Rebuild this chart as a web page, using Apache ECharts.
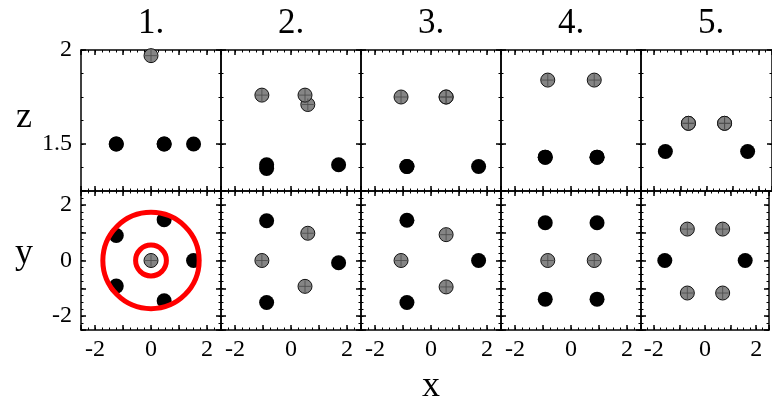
<!DOCTYPE html>
<html>
<head>
<meta charset="utf-8">
<script src="https://cdn.jsdelivr.net/npm/echarts@6/dist/echarts.min.js"></script>
<style>
  html, body { margin: 0; padding: 0; background: #fff; }
  #chart { width: 772px; height: 401px; }
</style>
</head>
<body>
<div id="chart"></div>
<script>
// Panel headings, one per configuration
const panelTitles = ['1.', '2.', '3.', '4.', '5.'];

// Dark sites: x, y, z per configuration
const blackX = [
  [-1.24, 0.47, 1.52, -1.24, 0.47],
  [-0.87, -0.87, 1.70],
  [-0.86, -0.86, 1.70],
  [-0.92, 0.93, -0.92, 0.93],
  [-1.57, 1.57]
];
const blackY = [
  [0.90, 1.47, 0.00, -0.92, -1.45],
  [1.43, -1.51, -0.08],
  [1.45, -1.51, 0.00],
  [1.36, 1.36, -1.39, -1.39],
  [0.00, 0.00]
];
const blackZ = [
  [1.50, 1.50, 1.50, 1.50, 1.50],
  [1.39, 1.37, 1.39],
  [1.38, 1.38, 1.38],
  [1.43, 1.43, 1.43, 1.43],
  [1.46, 1.46]
];

// Grey sites: x, y, z per configuration
const grayX = [
  [0.00],
  [-1.04, 0.60, 0.50],
  [-1.07, 0.54, 0.54],
  [-0.83, 0.83],
  [-0.69, 0.69, -0.69, 0.69]
];
const grayY = [
  [0.00],
  [0.00, 0.98, -0.93],
  [0.00, 0.93, -0.95],
  [0.00, 0.00],
  [1.13, 1.13, -1.17, -1.17]
];
const grayZ = [
  [1.97],
  [1.76, 1.71, 1.76],
  [1.75, 1.75, 1.75],
  [1.84, 1.84],
  [1.61, 1.61, 1.61, 1.61]
];

// Red rings in the first y–x panel: centre and radius
const ringCenterX = [0, 0];
const ringCenterY = [0, 0];
const ringRadius = [1.72, 0.55];

// Labelled tick values
const xTickLabels = [-2, 0, 2];
const yTickLabels = [-2, 0, 2];
const zTickLabels = [1.5, 2];

const FONT = 'Liberation Serif';
const PANEL_W = 140;
const LEFT0 = 81;

const rows = [
  { top: 50, height: 141, min: 1.25, max: 2.0, major: 0.5, minor: 0.125, labels: zTickLabels, dim: 'z' },
  { top: 191, height: 139, min: -2.5, max: 2.5, major: 1, minor: 0.25, labels: yTickLabels, dim: 'y' }
];
const xRange = { min: -2.5, max: 2.5, major: 1, minor: 0.25 };

const grid = [], xAxis = [], yAxis = [], series = [];
const lineStyle = { color: '#000', width: 1.5 };

function labelFormatter(list) {
  return function (v) {
    return list.some(function (l) { return Math.abs(l - v) < 1e-9; }) ? String(v) : '';
  };
}
const labelStyle = { fontFamily: FONT, fontSize: 24, color: '#000' };

// small cross drawn inside each grey marker
const CROSS = 'path://M0,10 L20,10 M10,0 L10,20';

rows.forEach(function (row, r) {
  for (let c = 0; c < 5; c++) {
    const g = grid.length;
    grid.push({ left: LEFT0 + c * PANEL_W, top: row.top, width: PANEL_W, height: row.height, containLabel: false });

    ['bottom', 'top'].forEach(function (pos) {
      // major ticks + frame line
      xAxis.push({
        gridIndex: g, type: 'value', position: pos,
        min: xRange.min, max: xRange.max, minInterval: xRange.major, maxInterval: xRange.major,
        axisLine: { show: true, onZero: false, lineStyle: lineStyle },
        axisTick: { show: true, inside: true, length: 5, lineStyle: lineStyle },
        axisLabel: Object.assign({ show: r === 1 && pos === 'bottom', margin: 8, formatter: labelFormatter(xTickLabels) }, labelStyle),
        splitLine: { show: false }
      });
      // minor ticks
      xAxis.push({
        gridIndex: g, type: 'value', position: pos,
        min: xRange.min, max: xRange.max, interval: xRange.minor,
        axisLine: { show: false, onZero: false },
        axisTick: { show: true, inside: true, length: 2.5, lineStyle: { color: '#000', width: 1 } },
        axisLabel: { show: false },
        splitLine: { show: false }
      });
    });

    ['left', 'right'].forEach(function (pos) {
      yAxis.push({
        gridIndex: g, type: 'value', position: pos,
        min: row.min, max: row.max, minInterval: row.major, maxInterval: row.major,
        axisLine: { show: true, onZero: false, lineStyle: lineStyle },
        axisTick: { show: true, inside: true, length: 5, lineStyle: lineStyle },
        axisLabel: Object.assign({ show: c === 0 && pos === 'left', margin: 9, formatter: labelFormatter(row.labels) }, labelStyle),
        splitLine: { show: false }
      });
      yAxis.push({
        gridIndex: g, type: 'value', position: pos,
        min: row.min, max: row.max, interval: row.minor,
        axisLine: { show: false, onZero: false },
        axisTick: { show: true, inside: true, length: 2.5, lineStyle: { color: '#000', width: 1 } },
        axisLabel: { show: false },
        splitLine: { show: false }
      });
    });

    const xi = g * 4;      // bottom major x axis of this grid
    const yi = g * 4;      // left major y axis of this grid
    const vert = row.dim === 'z' ? [blackZ[c], grayZ[c]] : [blackY[c], grayY[c]];
    const grayPts = grayX[c].map(function (x, i) { return [x, vert[1][i]]; });

    series.push({
      type: 'scatter', xAxisIndex: xi, yAxisIndex: yi,
      symbol: 'circle', symbolSize: 15,
      itemStyle: { color: '#000', opacity: 1 },
      emphasis: { disabled: true },
      data: blackX[c].map(function (x, i) { return [x, vert[0][i]]; }),
      z: 3
    });
    series.push({
      type: 'scatter', xAxisIndex: xi, yAxisIndex: yi,
      symbol: 'circle', symbolSize: 14,
      itemStyle: { color: '#858585', borderColor: '#111', borderWidth: 1, opacity: 1 },
      emphasis: { disabled: true },
      data: grayPts,
      z: 4
    });
    series.push({
      type: 'scatter', xAxisIndex: xi, yAxisIndex: yi,
      symbol: CROSS, symbolSize: 12,
      itemStyle: { color: 'none', borderColor: '#4a4a4a', borderWidth: 0.8, opacity: 1 },
      emphasis: { disabled: true },
      silent: true,
      data: grayPts,
      z: 5
    });
  }
});

// rings drawn over the first y–x panel
series.push({
  type: 'custom', xAxisIndex: 20, yAxisIndex: 20, clip: false, z: 6,
  data: ringRadius.map(function (rad, i) { return [ringCenterX[i], ringCenterY[i], rad]; }),
  renderItem: function (params, api) {
    const c = api.coord([api.value(0), api.value(1)]);
    const s = api.size([api.value(2), api.value(2)]);
    return {
      type: 'circle',
      shape: { cx: c[0], cy: c[1], r: s[0] },
      style: { fill: 'none', stroke: '#ff0000', lineWidth: 5 }
    };
  }
});

function textEl(text, x, y, size) {
  return {
    type: 'text', x: x, y: y,
    style: { text: text, font: size + 'px ' + FONT, fill: '#000', textAlign: 'center', textVerticalAlign: 'bottom' }
  };
}

const graphic = panelTitles.map(function (t, c) {
  return textEl(t, LEFT0 + c * PANEL_W + PANEL_W / 2, 41, 35);
}).concat([
  textEl('z', 24, 135.5, 36),
  textEl('y', 24, 272, 36),
  textEl('x', 431, 405, 36)
]);

const chart = echarts.init(document.getElementById('chart'), null, { renderer: 'canvas' });
chart.setOption({
  animation: false,
  backgroundColor: '#fff',
  grid: grid,
  xAxis: xAxis,
  yAxis: yAxis,
  series: series,
  graphic: graphic
});
</script>
</body>
</html>
